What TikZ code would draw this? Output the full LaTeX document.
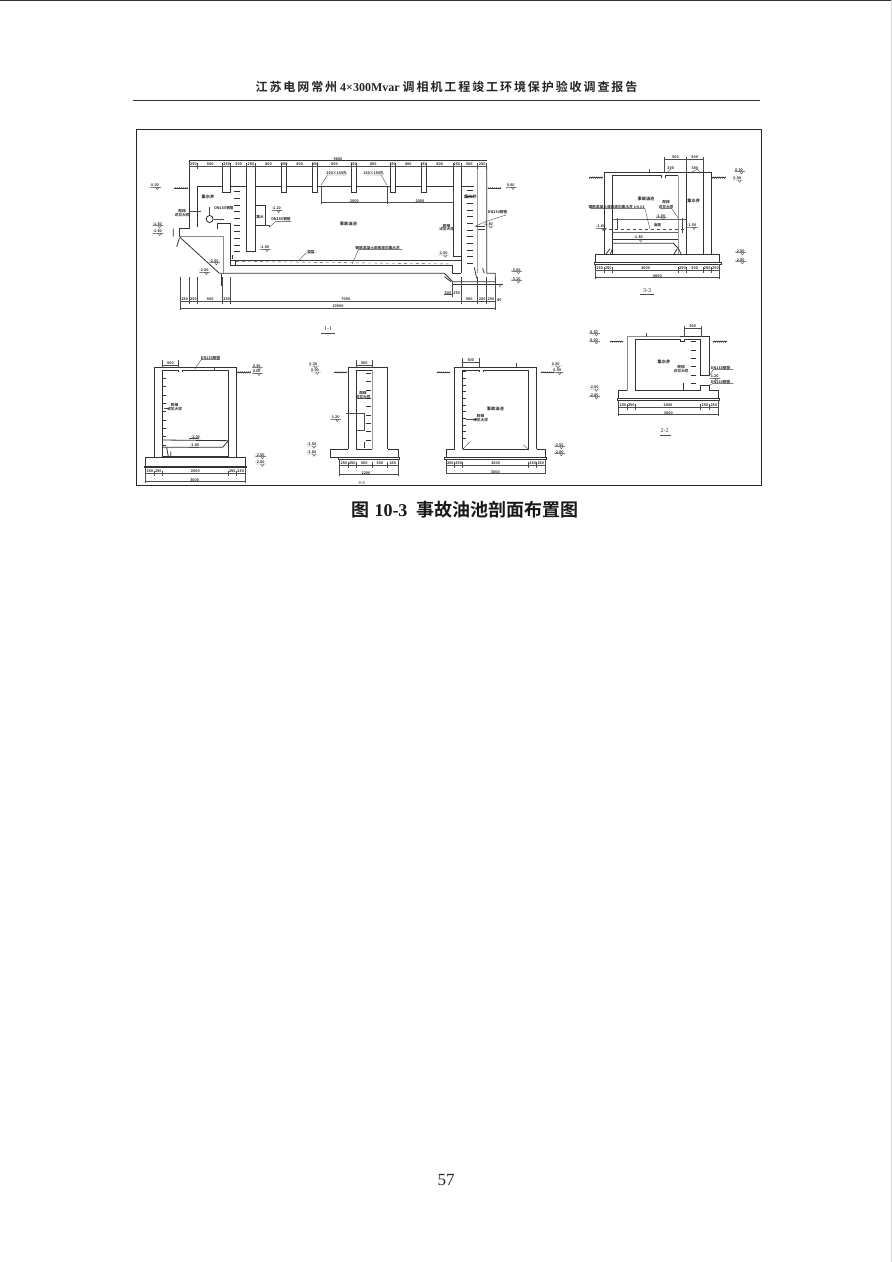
\documentclass[tikz,border=0pt]{standalone}
\usepackage{fontspec}
\setmainfont{Liberation Serif}
\newfontfamily\cjk{Noto Sans CJK SC}[BoldFont={* Bold}]
\newfontfamily\cjkwide{Noto Sans CJK SC}[BoldFont={* Bold},LetterSpace=16]
\usetikzlibrary{positioning}
\tikzset{
  wall/.style={line width=0.8pt,black!80},
  thin/.style={line width=0.4pt,black!70},
  lead/.style={line width=0.35pt,black!75},
  band/.style={line width=0.7pt,black!80},
  tiny/.style={font=\fontsize{3.7}{4}\cjk\bfseries,inner sep=0pt,black!85},
  roomname/.style={font=\fontsize{4.2}{4.5}\cjk\bfseries,inner sep=0pt,black!90},
  secname/.style={font=\fontsize{6}{6}\selectfont,inner sep=0pt,black!80},
}
% dimension row: y, then x0/x1/label segments
\newcommand{\dimrow}[2]{%
  \foreach \xa/\xb/\txt in {#2} {
    \draw[thin] (\xa,#1) -- (\xb,#1);
    \draw[thin] (\xa,#1-8) -- (\xa,#1+8) (\xb,#1-8) -- (\xb,#1+8);
    \node[tiny] at ({(\xa+\xb)/2},#1-7) {\txt};
  }}
% level mark: x, y, label
\newcommand{\levelmark}[3]{%
  \draw[lead] (#1-22,#2) -- (#1+10,#2) (#1-6,#2) -- (#1-1,#2+7) -- (#1+4,#2);
  \node[tiny] at (#1-8,#2-6) {#3};}
% ground hatch: x0, y
\newcommand{\groundmark}[2]{%
  \foreach \gg in {0,6,...,36} { \draw[lead] (#1+\gg,#2+3) -- (#1+\gg+4,#2-3); }
  \draw[lead] (#1,#2) -- (#1+40,#2);}
\begin{document}
\begin{tikzpicture}[x=1pt,y=-1pt]
  \useasboundingbox (0,0) rectangle (892,1262);
  \fill[white] (0,0) rectangle (892,1262);
  \draw[line width=1pt,black!80] (0,0.5) -- (892,0.5);
  \draw[line width=0.5pt,black!15] (891,0) -- (891,1262);

  % page furniture
  \node (header) at (446.5,87) [inner sep=0pt,font=\fontsize{12}{12}\bfseries\selectfont,black!85]
    {{\cjkwide 江苏电网常州} 4×300Mvar {\cjkwide 调相机工程竣工环境保护验收调查报告}};
  \draw[line width=0.8pt,black!80] (133,100) -- (760,100);
  \node (frame) at (448.5,307) [draw=black!85,line width=0.8pt,minimum width=625pt,minimum height=356pt,inner sep=0pt] {};
  \node (caption) at (465,510) [inner sep=0pt,font=\fontsize{18}{18}\bfseries\selectfont,black!90]
    {{\cjk 图}\hspace{5pt}10-3\hspace{9pt}{\cjk 事故油池剖面布置图}};
  \node (pageno) at (446,1180) [inner sep=0pt,font=\fontsize{17}{18}\selectfont,black!85] {57};

  % section 1-1
  \begin{scope}[shift={(136,130)},x=1pt/3,y=-1pt/3]
    \draw[wall] (160,92) -- (1052,92);
    \draw[wall] (160,108) -- (1052,108);
    \draw[wall] (160,92) -- (160,295) -- (130,295) -- (130,320);
    \draw[thin,black!45] (130,320) -- (263,320) -- (263,430);
    \draw[wall] (185,290) -- (185,170) -- (260,170) -- (260,188) -- (284,188) -- (284,170) -- (332,170);
    \draw[wall] (260,108) -- (260,170) (284,108) -- (284,170);
    \draw[wall] (332,108) -- (332,365) -- (358,365) -- (358,108);
    \draw[wall] (358,170) -- (437,170);
    \foreach \xa/\xb in {437/452,530/545,646/661,763/778,856/871} {
      \draw[wall] (\xa,108) -- (\xa,188) -- (\xb,188) -- (\xb,108);
    }
    \draw[wall] (452,170) -- (530,170) (545,170) -- (646,170) (661,170) -- (763,170) (778,170) -- (856,170) (871,170) -- (951,170);
    \draw[wall] (951,108) -- (951,380) -- (975,380);
    \draw[wall] (975,108) -- (975,430);
    \draw[wall] (975,170) -- (1015,170);
    \draw[wall] (1052,108) -- (1052,430) -- (1078,430) -- (1078,455) -- (950,455) -- (925,430) -- (250,430);
    \draw[wall] (975,430) -- (950,430) -- (950,407) -- (284,407) -- (284,280) -- (245,280) -- (245,296);
    \draw[wall] (284,390) -- (975,390);
    \draw[wall] (298,390) -- (298,407);
    \draw[wall] (130,320) -- (250,430);
    \draw[wall] (950,462) -- (1100,462);
    \draw[thin,black!40] (1025,108) -- (1025,430);
    % ladder rungs
    \foreach \yy in {185,205,...,370} { \draw[wall] (295,\yy) -- (312,\yy); }
    \foreach \yy in {180,200,...,410} { \draw[wall] (994,\yy) -- (1010,\yy); }
    % inner box and well
    \draw[wall] (358,226) rectangle (388,285);
    \draw[thin] (388,285) -- (400,285) -- (400,292);
    \draw[thin] (160,245) -- (195,245);
    \node (pump) at (221,267) [draw=black!85,circle,line width=0.8pt,minimum size=7pt,inner sep=0pt] {};
    \draw[thin] (pump.north) -- +(0,-25) (pump.east) -- +(30,0);
    % sloped floor
    \draw[thin,dashed] (300,394) -- (950,402);
    % dimensions
    \dimrow{108}{160/185/250,185/260/500,260/284/250,284/332/500,332/358/250,358/437/800,437/452/250,452/530/800,530/545/250,545/646/800,646/661/250,661/763/800,763/778/250,778/856/800,856/871/250,871/951/800,951/975/250,975/1025/500,1025/1052/250}
    \node[tiny] (toplen) at (606,86) {9800};
    \draw[thin] (555,170) -- (555,222) (753,170) -- (753,222) (951,190) -- (951,222);
    \draw[thin] (555,218) -- (951,218);
    \node[tiny] (wa) at (655,214) {2000};
    \node[tiny] (wb) at (852,214) {2000};
    \draw[lead] (555,165) -- (575,135) -- (630,135);
    \draw[lead] (753,165) -- (735,135) -- (688,135);
    \node[tiny] (noteA) at (602,130) {150×150孔};
    \node[tiny] (noteB) at (713,130) {150×150孔};
    \foreach \xx in {133,160,185,260,284,975,1025,1052,1078} {
      \draw[thin] (\xx,440) -- (\xx,521);
    }
    \dimrow{515}{133/160/250,160/185/250,185/260/500,260/284/250,284/975/7000,975/1025/500,1025/1052/250,1052/1078/250}
    \draw[thin] (133,515) -- (133,541) (1078,515) -- (1078,541);
    \draw[thin] (133,535) -- (1078,535);
    \node[tiny] (botlen) at (606,529) {10500};
    % room labels
    \node[roomname] (roomA) at (216,202) {集水井};
    \node[roomname] (roomB) at (637,282) {事故油池};
    \node[roomname] (roomC) at (1003,202) {集水井};
    \node[tiny] (holeA) at (372,262) {集水};
    \node[tiny] (noteD) at (138,243) {爬梯};
    \node[tiny] (noteD2) at (138,254) {详见大样};
    \node[tiny] (noteE) at (264,233) {DN150钢管};
    \node[tiny] (noteF) at (932,288) {爬梯};
    \node[tiny] (noteF2) at (932,298) {详见大样};
    \node[tiny] (noteG) at (1085,247) {DN150钢管};
    \node[tiny] (noteH) at (525,365) {垫层};
    \node[tiny] (noteI) at (725,353) {钢筋混凝土底板坡向集水井};
    \node[tiny] (noteJ) at (435,268) {DN150钢管};
    \draw[lead] (490,390) -- (510,369) -- (540,369);
    \draw[lead] (648,402) -- (668,358) -- (800,358);
    \draw[lead] (1015,290) -- (1048,275) -- (1110,255);
    \draw[lead] (400,292) -- (418,275) -- (465,275);
    \draw[lead] (1020,288) -- (1048,288) (1025,298) -- (1048,298);
    % levels
    \levelmark{65}{172}{0.00}
    \levelmark{1132}{172}{0.00}
    \levelmark{72}{287}{-1.50}
    \levelmark{72}{310}{-1.80}
    \levelmark{394}{358}{-1.50}
    \levelmark{929}{375}{-1.50}
    \levelmark{242}{398}{-2.50}
    \levelmark{212}{427}{-2.80}
    \levelmark{1148}{425}{-3.00}
    \levelmark{1148}{452}{-3.10}
    \levelmark{429}{241}{-1.20}
    \levelmark{1065}{288}{-1.80}
    \groundmark{115}{174}
    \groundmark{1055}{174}
    % small end dimensions
    \draw[wall] (112,296) -- (112,320) (130,325) -- (122,350);
    \draw[wall] (255,432) -- (255,468) (290,375) -- (290,386);
    \draw[wall] (1040,415) -- (1045,430) (1015,412) -- (1022,445);
    \draw[wall] (925,440) -- (945,455) (1092,462) -- (1092,472);
    \draw[thin] (925,494) -- (950,494) (950,455) -- (950,500);
    \node[tiny] (ea) at (936,490) {500};
    \node[tiny] (eb) at (962,490) {250};
    \node[tiny] (ec) at (1090,510) {40};
    \node[secname] (secA) at (576,597) {1-1};
    \draw[thin] (556,610) -- (597,610);
  \end{scope}

  % section 3-3
  \begin{scope}[shift={(560,130)},x=1pt/3,y=-1pt/3]
    \draw[wall] (132,375) -- (132,127) -- (454,127) -- (454,375);
    \draw[wall] (158,375) -- (158,137) -- (305,137) -- (305,143) (315,143) -- (315,137) -- (355,137);
    \draw[wall] (379,127) -- (379,373) -- (429,373) -- (429,127);
    \draw[thin,black!40] (356,137) -- (356,375);
    \draw[wall] (106,373) -- (479,373) -- (479,397) -- (106,397) -- cycle;
    \draw[line width=1pt,black!60] (158,267) -- (379,267);
    \draw[thin,dashed] (130,298) -- (379,298);
    \draw[line width=1pt,black!60] (158,308) -- (355,308);
    \draw[wall] (158,328) -- (355,328);
    \draw[wall] (158,340) -- (340,340) -- (355,355);
    \draw[wall] (158,355) -- (150,375) (355,355) -- (365,375);
    \draw[thin] (172,265) -- (172,298) (368,265) -- (368,310);
    \draw[band] (104,397) rectangle (484,402);
    \draw[thin] (314,80) -- (314,127) (379,80) -- (379,127) (429,80) -- (429,127);
    \dimrow{88}{314/379/500,379/429/500}
    \dimrow{420}{106/132/250,132/158/250,158/356/2000,356/379/250,379/429/500,429/454/250,454/479/250}
    \draw[thin] (106,402) -- (106,446) (479,402) -- (479,446) (106,441) -- (479,441);
    \node[tiny] (bot) at (292,437) {4000};
    \node[roomname] (roomA) at (258,208) {事故油池};
    \node[roomname] (roomB) at (401,214) {集水井};
    \node[tiny] (level) at (292,284) {油面};
    \node[tiny] (note) at (170,231) {钢筋混凝土底板坡向集水井 i=0.01};
    \node[tiny] (noteB) at (318,217) {爬梯};
    \node[tiny] (noteE) at (318,230) {详见大样};
    \draw[lead] (92,236) -- (255,236) -- (270,298);
    \draw[lead] (300,236) -- (335,236) -- (355,265);
    \draw[lead] (318,130) -- (332,118) (392,128) -- (412,118) -- (420,125);
    \node[tiny] (noteC) at (332,113) {300};
    \node[tiny] (noteD) at (405,113) {300};
    \draw[thin] (268,127) -- (268,118);
    \draw[wall] (150,356) -- (138,372) (352,356) -- (342,372);
    \levelmark{310}{263}{-1.00}
    \levelmark{243}{328}{-1.80}
    \levelmark{403}{292}{-1.50}
    \levelmark{130}{295}{-1.60}
    \levelmark{545}{125}{0.30}
    \levelmark{540}{150}{0.00}
    \levelmark{548}{368}{-2.50}
    \levelmark{548}{395}{-2.80}
    \groundmark{88}{143}
    \groundmark{457}{143}
    \node[secname] (sec) at (261,483) {3-3};
    \draw[thin] (240,494) -- (283,494);
  \end{scope}

  % left section
  \begin{scope}[shift={(136,340)},x=1pt/3,y=-1pt/3]
    \draw[wall] (55,352) -- (55,83) -- (301,83) -- (301,352);
    \draw[wall] (79,352) -- (79,90) -- (128,90) -- (128,97) (138,97) -- (138,90) -- (277,90) -- (277,352);
    \draw[wall] (29,352) -- (327,352) -- (327,378) -- (29,378) -- cycle;
    \draw[band] (26,378) rectangle (331,383);
    \draw[wall] (79,322) -- (260,322) -- (277,302) -- (79,300);
    \draw[wall] (79,350) -- (277,350);
    \foreach \yy in {90,115,...,315} { \draw[wall] (79,\yy) -- (91,\yy); }
    \draw[wall] (92,322) -- (97,350) -- (104,350) -- (104,335);
    \draw[thin] (79,60) -- (79,83) (128,60) -- (128,83);
    \dimrow{75}{79/128/500}
    \draw[lead] (176,88) -- (196,58) -- (252,58);
    \node[tiny] (note) at (224,53) {DN150钢管};
    \draw[thin] (236,83) -- (236,92);
    \draw[thin] (84,205) -- (100,205);
    \node[tiny] (ladder) at (116,196) {爬梯};
    \node[tiny] (ladderb) at (116,208) {详见大样};
    \dimrow{400}{29/55/250,55/79/250,79/277/2000,277/301/250,301/327/250}
    \draw[thin] (29,383) -- (29,430) (327,383) -- (327,430) (29,424) -- (327,424);
    \node[tiny] (bot) at (176,420) {3000};
    \node[tiny] (ltop) at (178,290) {-1.00};
    \node[tiny] (lbot) at (176,316) {-1.80};
    \draw[thin] (160,296) -- (190,296) (160,322) -- (190,322);
    \levelmark{370}{83}{0.30}
    \levelmark{370}{100}{0.00}
    \levelmark{380}{350}{-2.50}
    \levelmark{380}{372}{-2.80}
    \groundmark{304}{97}
  \end{scope}

  % middle section
  \begin{scope}[shift={(136,340)},x=1pt/3,y=-1pt/3]
    \draw[wall] (637,327) -- (637,83) -- (755,83) -- (755,327);
    \draw[wall] (661,327) -- (661,90) -- (709,90);
    \draw[thin,black!40] (709,90) -- (709,327);
    \draw[wall] (637,327) -- (584,327) -- (584,352) -- (786,352) -- (786,327) -- (755,327);
    \draw[wall] (661,327) -- (709,327);
    \draw[band] (608,352) rectangle (790,358);
    \foreach \yy in {100,125,...,320} { \draw[wall] (691,\yy) -- (705,\yy); }
    \draw[thin] (630,220) -- (686,220) -- (686,270) -- (661,270);
    \draw[wall] (686,305) -- (686,325);
    \draw[thin] (661,60) -- (661,83) (709,60) -- (709,83);
    \dimrow{75}{661/709/500}
    \node[tiny] (ladder) at (681,158) {爬梯};
    \node[tiny] (ladderb) at (681,170) {详见大样};
    \draw[thin] (661,174) -- (690,174);
    \dimrow{375}{611/637/250,637/661/250,661/709/500,709/755/500,755/786/250}
    \draw[thin] (611,358) -- (611,408) (786,358) -- (786,408) (611,402) -- (786,402);
    \node[tiny] (bot) at (690,398) {2200};
    \levelmark{540}{78}{0.30}
    \levelmark{545}{96}{0.00}
    \levelmark{605}{238}{-1.20}
    \levelmark{535}{318}{-2.50}
    \levelmark{535}{342}{-2.80}
    \groundmark{594}{97}
    \node[secname,font=\fontsize{5}{5}\selectfont] (sec) at (677,430) {4-4};
  \end{scope}

  % section with right-hand label
  \begin{scope}[shift={(420,315)},x=1pt/3,y=-1pt/3]
    \draw[wall] (104,403) -- (104,157) -- (350,157) -- (350,403);
    \draw[wall] (128,403) -- (128,165) -- (177,165) -- (177,172) (190,172) -- (190,165) -- (326,165) -- (326,403) -- (128,403);
    \draw[wall] (78,403) -- (104,403) (350,403) -- (375,403);
    \draw[wall] (78,403) -- (78,427) -- (375,427) -- (375,403);
    \draw[band] (74,427) rectangle (378,432);
    \foreach \yy in {170,190,...,385} { \draw[wall] (129,\yy) -- (138,\yy); }
    \draw[thin] (128,130) -- (128,157) (177,130) -- (177,157);
    \dimrow{142}{128/177/500}
    \draw[thin] (128,403) -- (150,380) (326,403) -- (310,390);
    \draw[thin] (138,312) -- (170,312);
    \node[tiny] (ladder) at (182,303) {爬梯};
    \node[tiny] (ladderb) at (182,316) {详见大样};
    \node[roomname] (room) at (226,282) {事故油池};
    \draw[thin] (288,157) -- (288,145);
    \dimrow{450}{78/104/250,104/128/250,128/326/2000,326/350/250,350/375/250}
    \draw[thin] (78,432) -- (78,478) (375,432) -- (375,478) (78,474) -- (375,474);
    \node[tiny] (bot) at (226,470) {3000};
    \levelmark{415}{153}{0.30}
    \levelmark{420}{172}{0.00}
    \levelmark{425}{395}{-2.50}
    \levelmark{425}{416}{-2.80}
    \groundmark{50}{172}
    \groundmark{362}{172}
  \end{scope}

  % section 2-2
  \begin{scope}[shift={(420,315)},x=1pt/3,y=-1pt/3]
    \draw[thin,black!45] (622,227) -- (622,65) -- (781,65);
    \draw[wall] (781,65) -- (868,65) -- (868,182) (868,210) -- (868,227);
    \draw[wall] (646,227) -- (646,72) -- (781,72) -- (781,80) -- (794,80) -- (794,72) -- (842,72) -- (842,182) (842,210) -- (842,227) -- (646,227);
    \draw[wall] (622,227) -- (596,227) -- (596,251) -- (895,251) -- (895,227) -- (868,227);
    \draw[band] (592,251) rectangle (899,256);
    \foreach \yy in {80,105,...,205} { \draw[wall] (812,\yy) -- (827,\yy); }
    \draw[wall] (790,205) -- (790,227) -- (797,227);
    \draw[wall] (842,182) -- (868,182) (842,210) -- (868,210);
    \draw[thin] (792,33) -- (792,65) (845,33) -- (845,65);
    \dimrow{40}{792/845/500}
    \node[tiny] (ladder) at (783,155) {爬梯};
    \node[tiny] (ladderb) at (783,168) {详见大样};
    \node[roomname] (room) at (732,142) {集水井};
    \draw[lead] (868,182) -- (880,163) -- (940,163);
    \draw[lead] (868,210) -- (880,205) -- (940,205);
    \node[tiny] (noteA) at (902,158) {DN150钢管};
    \node[tiny] (noteB) at (902,200) {DN150钢管};
    \dimrow{276}{596/622/250,622/646/250,646/842/2000,842/868/250,868/895/250}
    \draw[thin] (596,256) -- (596,303) (895,256) -- (895,303) (596,298) -- (895,298);
    \node[tiny] (bot) at (745,294) {3000};
    \draw[thin] (680,65) -- (680,53);
    \levelmark{530}{56}{0.30}
    \levelmark{530}{80}{0.00}
    \levelmark{530}{222}{-2.50}
    \levelmark{530}{245}{-2.80}
    \levelmark{890}{190}{-1.20}
    \groundmark{570}{80}
    \groundmark{880}{80}
    \node[secname] (sec) at (734,347) {2-2};
    \draw[thin] (720,362) -- (752,362);
  \end{scope}
\end{tikzpicture}
\end{document}
